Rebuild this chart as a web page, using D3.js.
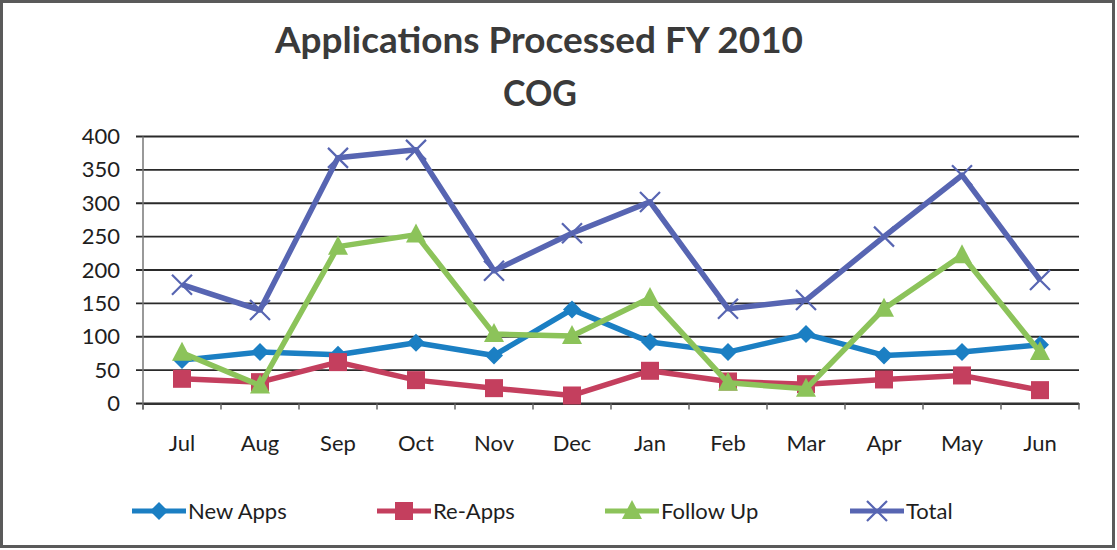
<!DOCTYPE html>
<html>
<head>
<meta charset="utf-8">
<script src="https://cdn.jsdelivr.net/npm/d3@7"></script>
<style>
  body { margin: 0; background: #fff; }
  svg { display: block; font-family: Lato, "Open Sans", sans-serif; }
</style>
</head>
<body>
<div id="chart"></div>
<script>
// Chart data
const months = ['Jul', 'Aug', 'Sep', 'Oct', 'Nov', 'Dec', 'Jan', 'Feb', 'Mar', 'Apr', 'May', 'Jun'];
const newApps = [65, 77, 73, 91, 72, 141, 92, 77, 104, 72, 77, 88];
const reApps = [37, 32, 62, 35, 23, 12, 49, 33, 29, 36, 42, 20];
const followUp = [76, 27, 235, 253, 104, 101, 158, 31, 22, 142, 222, 77];
const total = [178, 140, 368, 380, 199, 255, 302, 142, 155, 250, 342, 185];
const yTicks = [0, 50, 100, 150, 200, 250, 300, 350, 400];

const series = [
    { name: 'New Apps', values: newApps, color: '#1b7fc3', marker: 'diamond' },
    { name: 'Re-Apps', values: reApps, color: '#c43f5e', marker: 'square' },
    { name: 'Follow Up', values: followUp, color: '#8cc35a', marker: 'triangle' },
    { name: 'Total', values: total, color: '#5765b2', marker: 'cross' }
];

const W = 1117, H = 550;
const plot = { left: 143, right: 1079, top: 136.5, bottom: 403.5 };

const svg = d3.select('#chart').append('svg')
    .attr('width', W)
    .attr('height', H);

// outer frame
svg.append('rect')
    .attr('x', 1.5).attr('y', 1.5)
    .attr('width', 1112).attr('height', 545)
    .attr('fill', '#fff')
    .attr('stroke', '#5a5a5a')
    .attr('stroke-width', 3);

const x = d3.scaleBand()
    .domain(months)
    .range([plot.left, plot.right]);

const y = d3.scaleLinear()
    .domain([0, 400])
    .range([plot.bottom, plot.top]);

// title
svg.append('text')
    .attr('x', 539).attr('y', 53)
    .attr('text-anchor', 'middle')
    .attr('font-size', 36).attr('font-weight', 'bold')
    .attr('fill', '#3a3a3a')
    .attr('textLength', 528).attr('lengthAdjust', 'spacingAndGlyphs')
    .text('Applications Processed FY 2010');
svg.append('text')
    .attr('x', 540).attr('y', 106)
    .attr('text-anchor', 'middle')
    .attr('font-size', 36).attr('font-weight', 'bold')
    .attr('fill', '#3a3a3a')
    .attr('textLength', 74).attr('lengthAdjust', 'spacingAndGlyphs')
    .text('COG');

// gridlines
svg.append('g')
    .selectAll('line')
    .data(yTicks)
    .enter().append('line')
    .attr('x1', plot.left - 7)
    .attr('x2', plot.right)
    .attr('y1', d => y(d))
    .attr('y2', d => y(d))
    .attr('stroke', '#2a2a2a')
    .attr('stroke-width', 1.8);

// y axis
const yAxis = svg.append('g')
    .attr('transform', `translate(${plot.left},0)`)
    .call(d3.axisLeft(y).tickValues(yTicks).tickSize(0).tickPadding(23));
yAxis.select('.domain')
    .attr('d', `M0,${plot.top}V${plot.bottom + 6}`)
    .attr('stroke', '#777')
    .attr('stroke-width', 1.5);
yAxis.selectAll('text')
    .attr('font-size', 22)
    .attr('font-family', 'Lato, sans-serif')
    .attr('fill', '#1e1e1e');

// x axis
const xAxis = svg.append('g')
    .attr('transform', `translate(0,${plot.bottom})`)
    .call(d3.axisBottom(x).tickSize(0).tickPadding(32));
xAxis.select('.domain')
    .attr('stroke', '#333')
    .attr('stroke-width', 1.8);
xAxis.selectAll('text')
    .attr('font-size', 22)
    .attr('font-family', 'Lato, sans-serif')
    .attr('fill', '#1e1e1e');
// category separators
xAxis.append('g')
    .selectAll('line')
    .data(months.concat(['end']))
    .enter().append('line')
    .attr('x1', (d, i) => plot.left + i * x.step())
    .attr('x2', (d, i) => plot.left + i * x.step())
    .attr('y1', 0).attr('y2', 6)
    .attr('stroke', '#666')
    .attr('stroke-width', 1.5);

const cx = (d, i) => x(months[i]) + x.bandwidth() / 2;

function drawMarker(g, type, color) {
    if (type === 'diamond') {
        g.append('path').attr('d', 'M0,-9L9,0L0,9L-9,0Z').attr('fill', color);
    } else if (type === 'square') {
        g.append('rect').attr('x', -9).attr('y', -9).attr('width', 18).attr('height', 18).attr('fill', color);
    } else if (type === 'triangle') {
        g.append('path').attr('d', 'M0,-11L10,8L-10,8Z').attr('fill', color);
    } else {
        g.append('path').attr('d', 'M-10,-10L10,10M-10,10L10,-10')
            .attr('stroke', color).attr('stroke-width', 2.2).attr('fill', 'none');
    }
}

const line = d3.line()
    .x(cx)
    .y(d => y(d));

// series lines and markers
series.forEach(s => {
    const g = svg.append('g');
    g.append('path')
        .datum(s.values)
        .attr('d', line)
        .attr('fill', 'none')
        .attr('stroke', s.color)
        .attr('stroke-width', 5.5)
        .attr('stroke-linejoin', 'round');
    g.selectAll('g.m')
        .data(s.values)
        .enter().append('g')
        .attr('class', 'm')
        .attr('transform', (d, i) => `translate(${cx(d, i)},${y(d)})`)
        .each(function () { drawMarker(d3.select(this), s.marker, s.color); });
});

// legend
const legendX = [132, 377, 605, 850];
const legend = svg.append('g');
series.forEach((s, i) => {
    const lg = legend.append('g').attr('transform', `translate(${legendX[i]},511)`);
    lg.append('line')
        .attr('x1', 0).attr('x2', 54)
        .attr('stroke', s.color).attr('stroke-width', 5);
    const m = lg.append('g').attr('transform', 'translate(27,0)');
    drawMarker(m, s.marker, s.color);
    lg.append('text')
        .attr('x', 56).attr('y', 8)
        .attr('font-size', 22)
        .attr('fill', '#1e1e1e')
        .text(s.name);
});
</script>
</body>
</html>
